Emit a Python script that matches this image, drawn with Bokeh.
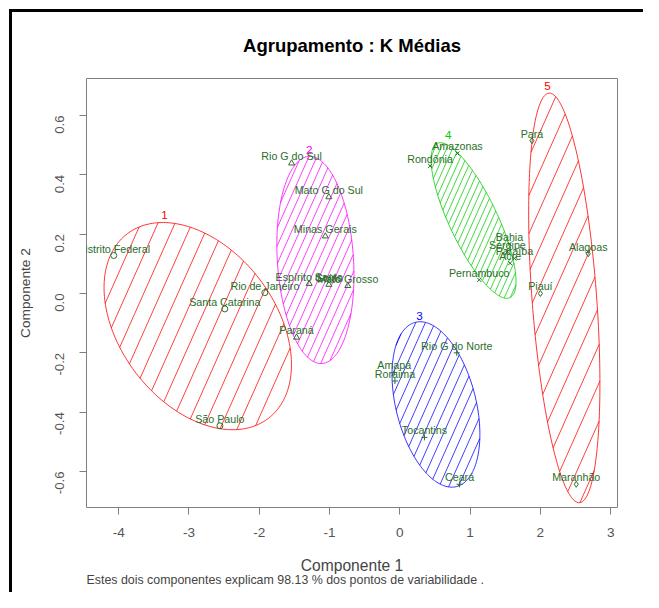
import numpy as np
from bokeh.plotting import figure
from bokeh.models import Range1d, FixedTicker, Title, ColumnDataSource
from bokeh.core.properties import value
from bokeh.embed import file_html
from bokeh.resources import INLINE

# ---------------- data ----------------
states = ["Distrito Federal", "Santa Catarina", "Rio de Janeiro", "São Paulo",
          "Rio G do Sul", "Mato G do Sul", "Minas Gerais", "Espírito Santo", "Goiás",
          "Mato Grosso", "Paraná",
          "Rio G do Norte", "Amapá", "Roraima", "Tocantins", "Ceará",
          "Amazonas", "Rondônia", "Bahia", "Sergipe", "Paraíba", "Acre", "Pernambuco",
          "Pará", "Alagoas", "Piauí", "Maranhão"]
comp1 = [-4.07, -2.49, -1.92, -2.56,
         -1.54, -1.01, -1.06, -1.29, -1.01, -0.74, -1.47,
         0.81, -0.08, -0.07, 0.35, 0.85,
         0.82, 0.43, 1.56, 1.53, 1.63, 1.57, 1.13,
         1.88, 2.68, 2.00, 2.51]
comp2 = [0.128, -0.052, 0.003, -0.446,
         0.439, 0.325, 0.193, 0.033, 0.030, 0.026, -0.148,
         -0.200, -0.266, -0.295, -0.485, -0.643,
         0.472, 0.430, 0.167, 0.141, 0.118, 0.102, 0.046,
         0.515, 0.134, 0.000, -0.643]
cluster = [1, 1, 1, 1,
           2, 2, 2, 2, 2, 2, 2,
           3, 3, 3, 3, 3,
           4, 4, 4, 4, 4, 4, 4,
           5, 5, 5, 5]

clus_ids = ["1", "2", "3", "4", "5"]
clus_cx = [-2.875, -1.201, 0.514, 1.049, 2.340]
clus_cy = [-0.110, 0.113, -0.374, 0.246, -0.015]
clus_sxx = [1.778, 0.3009, 0.3906, 0.3650, 0.2569]
clus_sxy = [-0.173, -0.0282, -0.0628, -0.1239, -0.1457]
clus_syy = [0.1219, 0.1219, 0.0777, 0.0688, 0.4763]
clus_lab_x = [-3.35, -1.29, 0.28, 0.69, 2.10]
clus_lab_y = [0.266, 0.482, -0.075, 0.534, 0.698]

x_ticks = [-4, -3, -2, -1, 0, 1, 2, 3]
x_tick_labels = ["-4", "-3", "-2", "-1", "0", "1", "2", "3"]
y_ticks = [-0.6, -0.4, -0.2, 0.0, 0.2, 0.4, 0.6]
y_tick_labels = ["-0.6", "-0.4", "-0.2", "0.0", "0.2", "0.4", "0.6"]

title_text = "Agrupamento : K Médias"
xlab = "Componente 1"
ylab = "Componente 2"
sub_text = "Estes dois componentes explicam 98.13 % dos pontos de variabilidade ."

# ---------------- styles ----------------
clus_colors = ["#FF0000", "#FF00FF", "#0000FF", "#00CD00", "#FF0000"]
hatch_spacing = [15.6, 7.3, 8.8, 5.4, 15.6]   # px between shading lines
hatch_angle = 66.0
markers = {1: "circle", 2: "triangle", 3: "cross", 4: "x", 5: "diamond"}
pt_color = "#2a6e2a"
FONT = "Liberation Sans"

X0, X1 = -4.458, 3.097
Y0, Y1 = -0.7213, 0.7246
FW, FH = 531, 429
kx = FW / (X1 - X0)
ky = FH / (Y1 - Y0)

p = figure(x_range=Range1d(X0, X1), y_range=Range1d(Y0, Y1),
           frame_width=FW, frame_height=FH,
           min_border_left=86, min_border_right=26, min_border_top=78, min_border_bottom=85,
           output_backend="svg", toolbar_location=None,
           background_fill_color="white", border_fill_color=None)

# outer black frame of the original window (top and left edges), drawn as page background
p.styles = {
    "background-color": "white",
    "background-image": "linear-gradient(black, black), linear-gradient(black, black)",
    "background-size": "3px 100%, 100% 3px",
    "background-position": "9px 9px, 9px 9px",
    "background-repeat": "no-repeat",
}

p.title = Title(text=title_text, align="center", text_font=FONT, text_font_size="18.5px",
                text_font_style="bold", text_color="black", standoff=45)

p.grid.visible = False
p.outline_line_color = "#808080"
p.outline_line_width = 1

for ax in (p.xaxis[0], p.yaxis[0]):
    ax.axis_line_color = None
    ax.major_tick_line_color = "#808080"
    ax.minor_tick_line_color = None
    ax.major_tick_out = 7
    ax.major_tick_in = 0
    ax.major_label_text_font = FONT
    ax.major_label_text_color = "#555555"
    ax.axis_label_text_font = FONT
    ax.axis_label_text_font_style = "normal"
    ax.axis_label_text_color = "#444444"

p.xaxis.ticker = FixedTicker(ticks=x_ticks)
p.xaxis.major_label_overrides = dict(zip(x_ticks, x_tick_labels))
p.xaxis.major_label_text_font_size = "13.6px"
p.xaxis.major_label_standoff = 13
p.xaxis.axis_label = xlab
p.xaxis.axis_label_text_font_size = "15.6px"
p.xaxis.axis_label_standoff = 17

p.yaxis.ticker = FixedTicker(ticks=y_ticks)
p.yaxis.major_label_overrides = dict(zip(y_ticks, y_tick_labels))
p.yaxis.major_label_text_font_size = "13.2px"
p.yaxis.major_label_orientation = np.pi / 2
p.yaxis.major_label_standoff = 20
p.yaxis.axis_label = ylab
p.yaxis.axis_label_text_font_size = "13.7px"
p.yaxis.axis_label_standoff = 15

p.add_layout(Title(text=sub_text, align="left", text_font=FONT, text_font_size="12.4px",
                   text_font_style="normal", text_color="#444444", standoff=-11), "below")


def ellipse_outline(cx, cy, sxx, sxy, syy, n=240):
    M = np.array([[sxx, sxy], [sxy, syy]])
    L = np.linalg.cholesky(M)
    t = np.linspace(0, 2 * np.pi, n)
    pts = L @ np.vstack([np.cos(t), np.sin(t)])
    return cx + pts[0], cy + pts[1]


def hatch_lines(cx, cy, sxx, sxy, syy, spacing, angle_deg):
    S = np.diag([kx, ky])
    M = S @ np.array([[sxx, sxy], [sxy, syy]]) @ S
    Q = np.linalg.inv(M)
    c = np.array([cx * kx, cy * ky])
    a = np.deg2rad(angle_deg)
    d = np.array([np.cos(a), np.sin(a)])
    nr = np.array([-np.sin(a), np.cos(a)])
    R = np.sqrt(nr @ M @ nr)
    cn = nr @ c
    xs, ys = [], []
    for k in range(int(np.ceil((cn - R) / spacing)), int(np.floor((cn + R) / spacing)) + 1):
        s = k * spacing - cn
        A = d @ Q @ d
        B = s * (nr @ Q @ d)
        C0 = s * s * (nr @ Q @ nr) - 1
        disc = B * B - A * C0
        if disc <= 0:
            continue
        t1 = (-B - np.sqrt(disc)) / A
        t2 = (-B + np.sqrt(disc)) / A
        p1 = c + s * nr + t1 * d
        p2 = c + s * nr + t2 * d
        xs.append([p1[0] / kx, p2[0] / kx])
        ys.append([p1[1] / ky, p2[1] / ky])
    return xs, ys


for i in range(len(clus_ids)):
    hx, hy = hatch_lines(clus_cx[i], clus_cy[i], clus_sxx[i], clus_sxy[i], clus_syy[i],
                         hatch_spacing[i], hatch_angle)
    p.multi_line(hx, hy, line_color=clus_colors[i], line_width=1, line_alpha=0.75)
    ex, ey = ellipse_outline(clus_cx[i], clus_cy[i], clus_sxx[i], clus_sxy[i], clus_syy[i])
    p.line(ex, ey, line_color=clus_colors[i], line_width=1, line_alpha=0.8)

p.text(clus_lab_x, clus_lab_y, text=clus_ids, text_color=clus_colors,
       text_font=value(FONT), text_font_size="11.7px", text_align="center",
       text_baseline="middle")

src = ColumnDataSource(dict(x=comp1, y=comp2, name=states,
                            marker=[markers[c] for c in cluster]))
p.scatter("x", "y", source=src, marker="marker", size=6, fill_color=None,
          line_color=pt_color, line_width=1)
p.text("x", "y", text="name", source=src, text_color=pt_color,
       text_font=value(FONT), text_font_size="10.7px", text_align="center",
       text_baseline="middle", y_offset=-7)

open("out.html", "w").write(file_html(p, INLINE))
